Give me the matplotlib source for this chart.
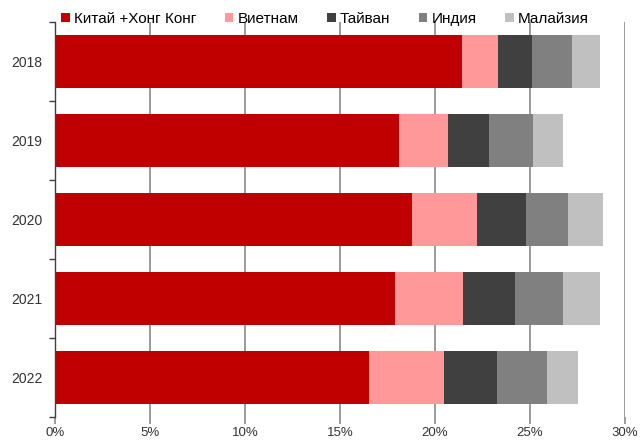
import matplotlib
matplotlib.use("Agg")
import matplotlib.pyplot as plt
import numpy as np

years = ["2018", "2019", "2020", "2021", "2022"]
series = ["Китай +Хонг Конг", "Виетнам", "Тайван", "Индия", "Малайзия"]

# дяловете по години, %
china = [21.4, 18.1, 18.8, 17.9, 16.55]
vietnam = [1.9, 2.6, 3.4, 3.6, 3.9]
taiwan = [1.8, 2.15, 2.6, 2.7, 2.8]
india = [2.1, 2.3, 2.2, 2.55, 2.65]
malaysia = [1.5, 1.6, 1.85, 1.95, 1.65]

colors = ["#C00000", "#FF9999", "#404040", "#808080", "#C0C0C0"]

plt.rcParams["font.family"] = ["Liberation Sans", "DejaVu Sans"]

fig = plt.figure(figsize=(6.44, 4.43), dpi=100)
ax = fig.add_axes([0.0854, 0.0587, 0.885, 0.8916])

y = np.arange(len(years))
left = np.zeros(len(years))
for name, vals, c in zip(series, [china, vietnam, taiwan, india, malaysia], colors):
    ax.barh(y, vals, left=left, height=0.66, color=c, label=name, zorder=2)
    left += np.array(vals)

ax.set_xlim(0, 30)
ax.set_ylim(len(years) - 0.5, -0.5)
ax.set_xticks(np.arange(0, 31, 5))
ax.set_xticklabels([f"{v}%" for v in range(0, 31, 5)])
ax.grid(axis="x", color="#808080", linewidth=1.1, zorder=0)

ax.set_yticks(y)
ax.set_yticklabels(years)
ax.set_yticks(np.arange(-0.5, len(years)), minor=True)
ax.tick_params(axis="y", which="major", length=0, pad=9, labelsize=10, labelcolor="#333333")
ax.tick_params(axis="y", which="minor", length=4, width=1, color="#404040", direction="out")
ax.tick_params(axis="x", length=5, width=1.1, color="#808080", labelsize=9.5,
               labelcolor="#333333", pad=2)

for s in ["top", "right", "bottom"]:
    ax.spines[s].set_visible(False)
ax.spines["left"].set_color("#404040")
ax.spines["left"].set_linewidth(1)

fig.legend(loc="center", bbox_to_anchor=(0.505, 0.958), ncol=5, frameon=False,
           fontsize=11, handlelength=0.55, handleheight=0.55, handletextpad=0.3,
           columnspacing=1.85, borderaxespad=0)

fig.savefig("out.png", dpi=100)
